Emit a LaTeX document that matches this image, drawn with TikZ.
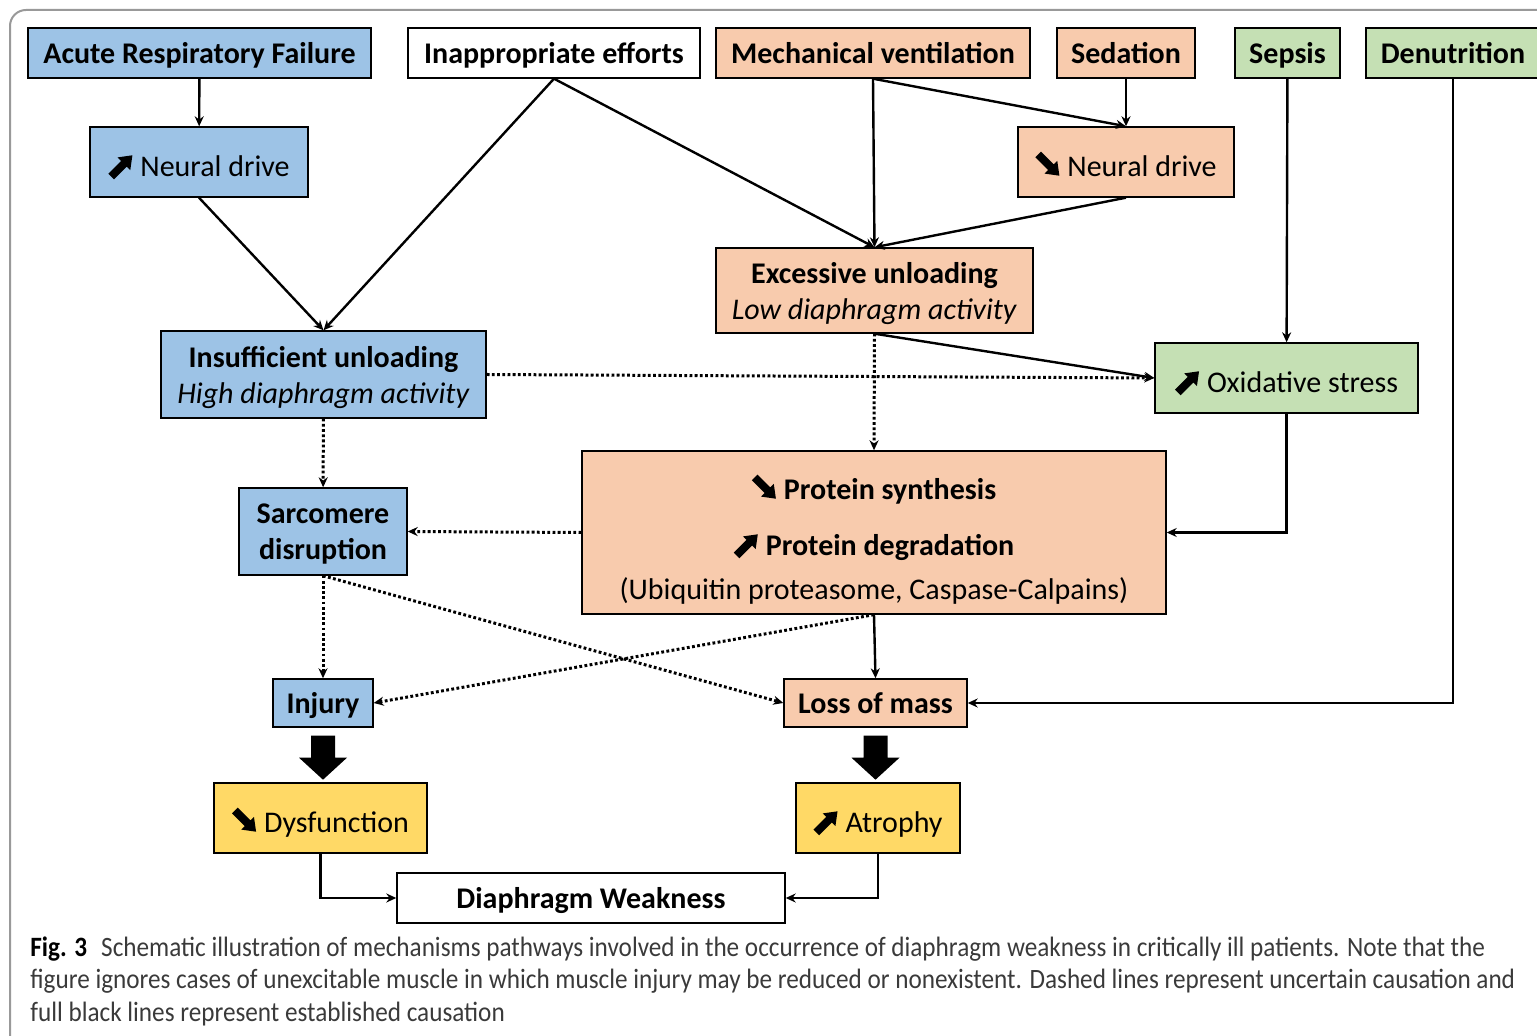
\documentclass[tikz,border=0pt]{standalone}
\usepackage{fontspec}
\setmainfont{Carlito}
\newfontfamily\capfont[FakeStretch=0.9]{Carlito}
\usetikzlibrary{arrows.meta, positioning, calc}
\definecolor{arfblue}{HTML}{9DC3E6}
\definecolor{mvorange}{HTML}{F8CBAD}
\definecolor{sepgreen}{HTML}{C5E0B4}
\definecolor{dysyellow}{HTML}{FFD966}
\definecolor{captext}{HTML}{3A3A3A}
\newcommand{\uparr}{\tikz[baseline=0pt, x=1pt, y=1pt]\fill[rotate=45] (0,-2) -- (9,-2) -- (9,-4.5) -- (15,0) -- (9,4.5) -- (9,2) -- (0,2) -- cycle;\hspace{4pt}}
\newcommand{\dnarr}{\tikz[baseline=0pt, x=1pt, y=1pt]\fill[shift={(0,11)}, rotate=-45] (0,-2) -- (9,-2) -- (9,-4.5) -- (15,0) -- (9,4.5) -- (9,2) -- (0,2) -- cycle;\hspace{4pt}}

\begin{document}
\begin{tikzpicture}[x=0.5pt, y=-0.5pt,
    box/.style={draw, line width=0.7pt, inner sep=0pt, align=center, text depth=0pt, font=\fontsize{15}{18}\selectfont},
    signbox/.style={box, text height=14.5pt},
    cause/.style={-{Stealth[length=5pt, width=4.5pt]}, line width=1.2pt},
    maybe/.style={cause, line width=1.5pt, dash pattern=on 1.4pt off 1.2pt}]
    \useasboundingbox (0,0) rectangle (1537,1036);
    \draw[gray!80, line width=1pt, rounded corners=8pt] (10,1080) -- (10,10) -- (1580,10);
    % causes, top row
    \node[box, fill=arfblue, minimum width=171.5pt, minimum height=25pt] (arf) at (199.5,53) {\textbf{Acute Respiratory Failure}};
    \node[box, fill=white, minimum width=146pt, minimum height=25pt] (inap) at (554,53) {\textbf{Inappropriate efforts}};
    \node[box, fill=mvorange, minimum width=157pt, minimum height=25pt] (mv) at (873,53) {\textbf{Mechanical ventilation}};
    \node[box, fill=mvorange, minimum width=69pt, minimum height=25pt] (sed) at (1126,53) {\textbf{Sedation}};
    \node[box, fill=sepgreen, minimum width=52.5pt, minimum height=25pt] (sep) at (1287.5,53) {\textbf{Sepsis}};
    \node[box, fill=sepgreen, minimum width=87pt, minimum height=25pt] (den) at (1453,53) {\textbf{Denutrition}};
    % mechanisms
    \node[signbox, fill=arfblue, minimum width=109pt, minimum height=35pt] (nd1) at (199,162) {\uparr Neural drive};
    \node[signbox, fill=mvorange, minimum width=108pt, minimum height=35pt] (nd2) at (1126,162) {\dnarr Neural drive};
    \node[box, fill=mvorange, minimum width=158.5pt, minimum height=42.5pt] (exc) at (874.5,290.5) {\textbf{Excessive unloading}\\ \textit{Low diaphragm activity}};
    \node[box, fill=arfblue, minimum width=162.5pt, minimum height=43.5pt] (ins) at (323.5,374.5) {\textbf{Insufficient unloading}\\ \textit{High diaphragm activity}};
    \node[signbox, fill=sepgreen, minimum width=131.5pt, minimum height=35pt] (ox) at (1286.5,378) {\uparr Oxidative stress};
    \node[box, fill=arfblue, minimum width=84pt, minimum height=43.5pt] (sarc) at (323,531.5) {\textbf{Sarcomere}\\ \textbf{disruption}};
    \node[box, fill=mvorange, minimum width=292pt, minimum height=81.5pt] (prot) at (874,532.5) {\rule{0pt}{17pt}\dnarr\textbf{Protein synthesis}\\[10pt] \uparr\textbf{Protein degradation}\\[4pt] (Ubiquitin proteasome, Caspase-Calpains)};
    \node[box, fill=arfblue, minimum width=50pt, minimum height=24pt] (inj) at (323,703) {\textbf{Injury}};
    \node[box, fill=mvorange, minimum width=91.5pt, minimum height=24pt] (loss) at (875.5,703) {\textbf{Loss of mass}};
    % consequences
    \node[signbox, fill=dysyellow, minimum width=106.5pt, minimum height=35pt] (dys) at (320.5,818) {\dnarr Dysfunction};
    \node[signbox, fill=dysyellow, minimum width=82pt, minimum height=35pt] (atr) at (878,818) {\uparr Atrophy};
    \node[box, fill=white, minimum width=194pt, minimum height=25pt] (weak) at (591,898) {\textbf{Diaphragm Weakness}};
    % established causation
    \draw[cause] (arf) -- (nd1);
    \draw[cause] (nd1.south) -- (ins.north);
    \draw[cause] (inap.south) -- (ins.north);
    \draw[cause] (inap.south) -- (exc.north);
    \draw[cause] (mv.south) -- (exc.north);
    \draw[cause] (mv.south) -- (nd2.north);
    \draw[cause] (sed) -- (nd2);
    \draw[cause] (nd2.south) -- (exc.north);
    \draw[cause] (exc.south) -- (ox.west);
    \draw[cause] (sep) -- (ox);
    \draw[cause] (ox.south) |- (prot.east);
    \draw[cause] (den.south) |- (loss.east);
    \draw[cause] (prot.south) -- (loss.north);
    \draw[cause] (dys.south) |- (weak.west);
    \draw[cause] (atr.south) |- (weak.east);
    % uncertain causation
    \draw[maybe] (ins.east) -- (ox.west);
    \draw[maybe] (exc.south) -- (prot.north);
    \draw[maybe] (ins) -- (sarc);
    \draw[maybe] (prot.west) -- (sarc.east);
    \draw[maybe] (sarc) -- (inj);
    \draw[maybe] (sarc.south) -- (loss.west);
    \draw[maybe] (prot.south) -- (inj.east);
    % big arrows
    \foreach \n in {inj, loss}
        \fill ($(\n.south)+(-12,8)$) -- ++(24,0) -- ++(0,22) -- ++(12,0) -- ++(-24,22) -- ++(-24,-22) -- ++(12,0) -- cycle;
    \node[anchor=north west, inner sep=0pt, align=left, text=captext, font=\capfont\fontsize{14}{16.3}\selectfont] (caption) at (30,936)
        {\textbf{\color{black}Fig. 3}\enspace Schematic illustration of mechanisms pathways involved in the occurrence of diaphragm weakness in critically ill patients. Note that the\\
        figure ignores cases of unexcitable muscle in which muscle injury may be reduced or nonexistent. Dashed lines represent uncertain causation and\\
        full black lines represent established causation};
\end{tikzpicture}
\end{document}
